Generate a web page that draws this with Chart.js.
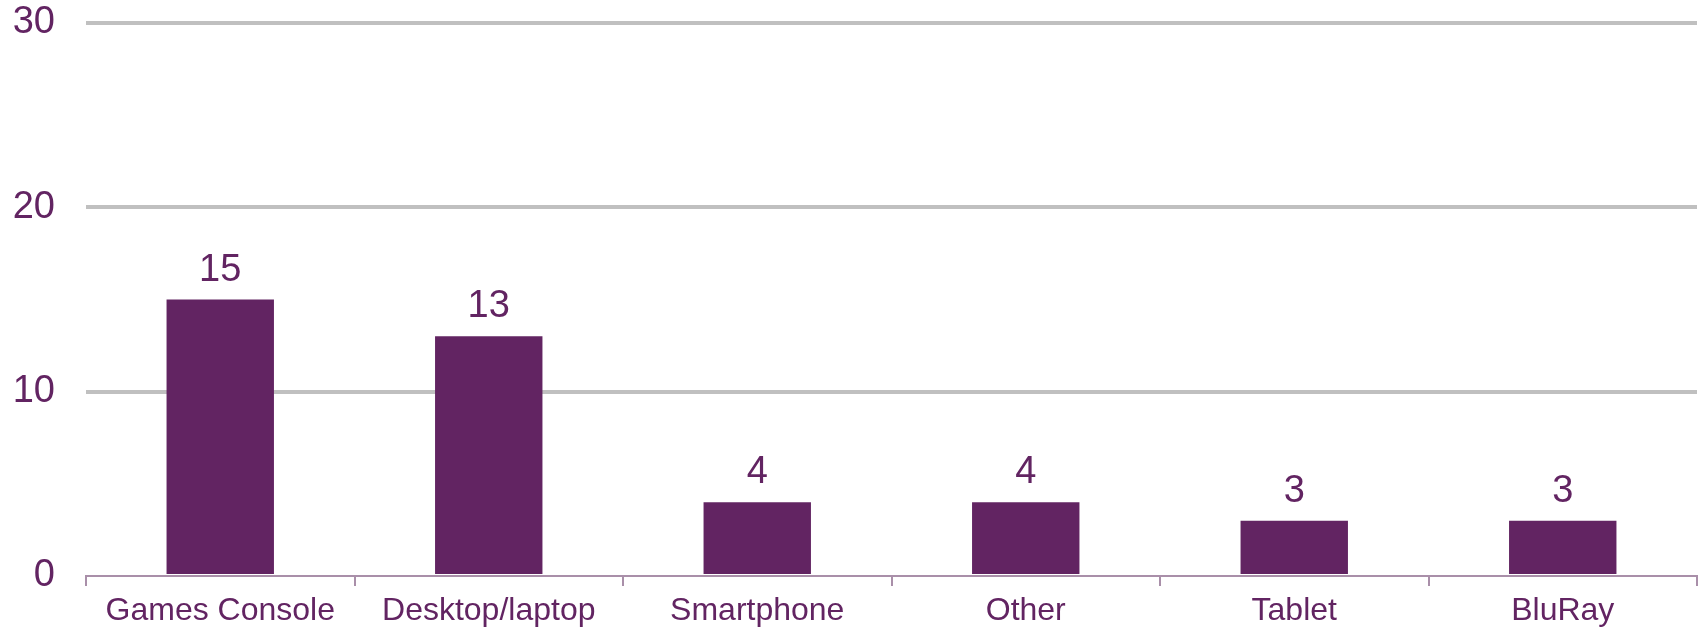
<!DOCTYPE html>
<html>
<head>
<meta charset="utf-8">
<script src="https://cdn.jsdelivr.net/npm/chart.js@4"></script>
<style>
  html, body { margin: 0; padding: 0; background: #fff; }
  #wrap { width: 1700px; height: 631px; position: relative; }
</style>
</head>
<body>
<div id="wrap"><canvas id="chart"></canvas></div>
<script>
const categories = ['Games Console', 'Desktop/laptop', 'Smartphone', 'Other', 'Tablet', 'BluRay'];
const counts = [15, 13, 4, 4, 3, 3];
const yTicks = [0, 10, 20, 30];

const purple = '#622462';
const gridGrey = '#c0c0c0';
const axisGrey = '#a98fa9';
const fontFamily = '"Liberation Sans", Arial, sans-serif';

// values printed above each bar
const barValues = {
  id: 'barValues',
  afterDatasetsDraw(chart) {
    const ctx = chart.ctx;
    const meta = chart.getDatasetMeta(0);
    ctx.save();
    ctx.font = '38px ' + fontFamily;
    ctx.fillStyle = purple;
    ctx.textAlign = 'center';
    ctx.textBaseline = 'alphabetic';
    meta.data.forEach((bar, i) => {
      ctx.fillText(String(counts[i]), bar.x, bar.y - 19);
    });
    ctx.restore();
  }
};

new Chart(document.getElementById('chart'), {
  type: 'bar',
  data: {
    labels: categories,
    datasets: [{ data: counts, backgroundColor: purple, barPercentage: 0.4, categoryPercentage: 1 }]
  },
  options: {
    responsive: true,
    maintainAspectRatio: false,
    animation: false,
    layout: { padding: { top: 0, right: 3, bottom: 0, left: 0 } },
    plugins: { legend: { display: false }, tooltip: { enabled: false } },
    scales: {
      x: {
        grid: { display: true, drawOnChartArea: false, drawTicks: true, tickLength: 10, color: axisGrey, lineWidth: 2 },
        border: { display: true, color: axisGrey, width: 2 },
        ticks: { color: purple, padding: 6, maxRotation: 0, font: { family: fontFamily, size: 32 } },
        afterFit(scale) { scale.height = 55; }
      },
      y: {
        min: 0, max: 30,
        afterBuildTicks(scale) { scale.ticks = yTicks.map(v => ({ value: v })); },
        grid: {
          drawTicks: false,
          lineWidth: 4,
          color: c => (c.tick && c.tick.value === 0) ? 'rgba(0,0,0,0)' : gridGrey
        },
        border: { display: false },
        ticks: { color: purple, padding: 31, font: { family: fontFamily, size: 38 } },
        afterFit(scale) {
          scale.width = 86;
          scale.paddingTop = 23;
          scale.paddingBottom = 0;
        }
      }
    }
  },
  plugins: [barValues]
});
</script>
</body>
</html>
